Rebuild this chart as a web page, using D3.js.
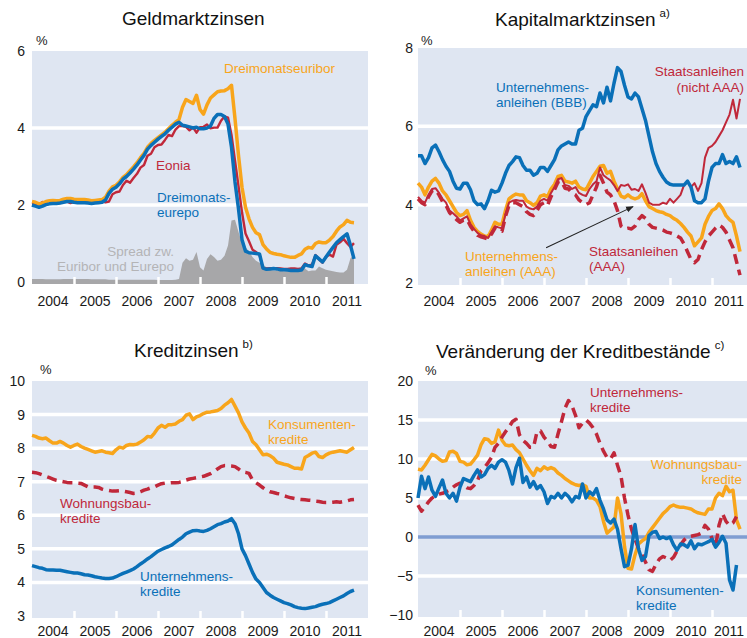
<!doctype html>
<html lang="de">
<head>
  <meta charset="UTF-8">
  <title>Zinsen und Kredite</title>
  <script src="https://cdnjs.cloudflare.com/ajax/libs/d3/7.8.5/d3.min.js"></script>
  <style>
  body { margin: 0; background: #fff; }
  svg { display: block; }
  </style>
</head>
<body>
<script>

// monthly values, first point = January 2004

// Geldmarktzinsen
var euribor = [2.09,2.07,2.03,2.05,2.09,2.11,2.12,2.11,2.12,2.15,2.17,2.17,
  2.15,2.14,2.14,2.14,2.13,2.11,2.12,2.13,2.14,2.20,2.36,2.47,
  2.51,2.60,2.72,2.79,2.89,2.99,3.10,3.23,3.34,3.50,3.60,3.68,
  3.75,3.82,3.89,3.98,4.07,4.15,4.22,4.54,4.74,4.69,4.64,4.85,
  4.48,4.36,4.60,4.78,4.86,4.94,4.96,4.97,5.02,5.11,4.24,3.29,
  2.46,1.94,1.64,1.42,1.28,1.23,0.97,0.86,0.77,0.74,0.72,0.71,
  0.68,0.66,0.64,0.64,0.69,0.73,0.85,0.90,0.88,1.00,1.04,1.02,
  1.02,1.09,1.18,1.32,1.43,1.49,1.60,1.55,1.54];
var eonia = [2.02,2.03,2.01,2.08,2.02,2.03,2.07,2.04,2.05,2.11,2.09,2.05,
  2.08,2.06,2.06,2.08,2.07,2.06,2.07,2.06,2.09,2.07,2.09,2.28,
  2.33,2.35,2.52,2.63,2.58,2.70,2.81,2.97,3.04,3.28,3.33,3.50,
  3.56,3.57,3.69,3.82,3.79,3.96,4.05,4.05,4.03,3.94,4.02,3.88,
  4.02,4.03,4.09,3.99,4.01,4.01,4.19,4.30,4.27,3.82,3.15,2.49,
  1.81,1.26,1.06,0.84,0.78,0.70,0.36,0.35,0.36,0.36,0.36,0.35,
  0.34,0.34,0.35,0.35,0.34,0.35,0.48,0.43,0.45,0.70,0.59,0.50,
  0.66,0.71,0.66,0.97,1.03,1.12,1.01,0.91,1.01];
var eurepo = [2.00,1.97,1.94,1.97,2.01,2.03,2.04,2.04,2.05,2.07,2.09,2.09,
  2.07,2.06,2.06,2.06,2.05,2.04,2.05,2.06,2.07,2.13,2.30,2.41,
  2.46,2.55,2.67,2.74,2.83,2.93,3.04,3.17,3.29,3.45,3.55,3.63,
  3.71,3.78,3.85,3.94,4.02,4.10,4.15,4.07,4.05,4.03,4.00,4.02,
  3.98,3.98,4.00,4.05,4.25,4.35,4.35,4.30,4.10,3.50,2.60,1.90,
  1.10,0.80,0.76,0.75,0.74,0.73,0.36,0.33,0.34,0.35,0.34,0.32,
  0.32,0.31,0.30,0.30,0.30,0.31,0.45,0.42,0.40,0.68,0.60,0.52,
  0.65,0.78,0.90,1.02,1.10,1.18,1.25,0.95,0.60];
var spread = [0.08,0.08,0.08,0.08,0.07,0.07,0.07,0.07,0.07,0.08,0.08,0.08,
  0.08,0.08,0.08,0.08,0.08,0.07,0.07,0.07,0.07,0.07,0.06,0.06,
  0.06,0.06,0.06,0.06,0.06,0.06,0.06,0.06,0.06,0.06,0.06,0.06,
  0.05,0.05,0.05,0.05,0.05,0.06,0.08,0.50,0.62,0.55,0.58,0.78,
  0.38,0.30,0.60,0.72,0.65,0.55,0.58,0.68,0.95,1.60,1.62,1.30,
  1.00,0.90,0.80,0.65,0.55,0.50,0.45,0.38,0.32,0.30,0.30,0.30,
  0.28,0.28,0.30,0.32,0.35,0.38,0.35,0.28,0.30,0.30,0.40,0.36,
  0.32,0.30,0.28,0.26,0.25,0.25,0.32,0.62,0.70];

// Kapitalmarktzinsen
var bbb = [5.25,5.25,5.05,5.2,5.45,5.52,5.35,5.15,4.98,4.85,4.6,4.42,
  4.4,4.55,4.55,4.38,4.1,4.0,4.02,3.9,4.1,4.37,4.32,4.35,
  4.55,4.8,5.0,5.1,5.22,5.2,5.0,4.88,4.88,4.75,4.8,4.95,
  4.95,4.85,5.0,5.15,5.4,5.5,5.55,5.6,5.55,5.55,5.9,5.95,
  6.25,6.4,6.55,6.5,6.85,6.6,7.0,6.65,7.1,7.5,7.4,7.05,
  6.75,6.7,6.85,6.75,6.45,6.15,5.75,5.35,5.05,4.85,4.7,4.58,
  4.52,4.5,4.5,4.5,4.5,4.6,4.45,4.1,4.05,4.05,4.15,4.6,
  4.95,5.05,5.05,5.28,5.05,5.1,5.05,5.22,4.95];
var aaaCorp = [4.55,4.45,4.25,4.45,4.6,4.67,4.55,4.35,4.25,4.1,3.95,3.8,
  3.72,3.75,3.85,3.6,3.42,3.32,3.25,3.2,3.18,3.35,3.55,3.5,
  3.5,3.85,4.15,4.22,4.27,4.25,4.25,4.1,4.05,3.98,4.05,4.22,
  4.25,4.2,4.4,4.52,4.72,4.75,4.6,4.58,4.55,4.6,4.45,4.4,
  4.38,4.55,4.72,4.85,4.98,5.0,4.8,4.85,4.6,4.4,4.22,4.18,
  4.25,4.18,4.15,4.18,4.28,4.1,3.95,3.9,3.85,3.82,3.8,3.75,
  3.72,3.65,3.6,3.52,3.42,3.3,3.2,2.95,3.05,3.15,3.5,3.7,
  3.85,3.9,4.02,3.9,3.72,3.62,3.55,3.2,2.8];
var govNonAaa = [4.2,4.1,4.05,4.25,4.4,4.42,4.3,4.15,4.05,3.85,3.78,3.7,
  3.6,3.65,3.7,3.5,3.38,3.28,3.22,3.2,3.15,3.3,3.45,3.42,
  3.4,3.75,4.05,4.1,4.12,4.1,4.1,3.95,3.9,3.88,3.95,4.1,
  4.15,4.1,4.3,4.45,4.65,4.68,4.5,4.48,4.4,4.45,4.3,4.25,
  4.22,4.4,4.52,4.6,4.95,4.75,4.68,4.62,4.5,4.35,4.5,4.48,
  4.52,4.38,4.4,4.35,4.52,4.3,4.05,4.0,4.0,4.0,4.05,4.02,
  4.15,4.05,4.15,4.25,4.5,4.58,4.45,4.55,4.35,4.55,5.2,5.45,
  5.5,5.6,5.75,5.9,6.1,6.3,6.68,6.2,6.7];
var govAaa = [4.15,4.05,4.0,4.2,4.35,4.38,4.25,4.08,3.98,3.8,3.7,3.62,
  3.55,3.6,3.62,3.45,3.32,3.22,3.18,3.15,3.12,3.25,3.4,3.35,
  3.32,3.7,3.98,4.05,4.05,4.0,3.95,3.82,3.75,3.72,3.85,4.0,
  4.05,3.98,4.2,4.38,4.58,4.6,4.42,4.4,4.3,4.25,4.12,4.05,
  4.0,4.05,4.25,4.45,4.75,4.55,4.32,4.25,4.1,3.85,3.45,3.38,
  3.4,3.38,3.45,3.62,3.72,3.65,3.5,3.42,3.4,3.38,3.35,3.3,
  3.28,3.25,3.2,3.15,3.0,2.8,2.6,2.52,2.6,2.85,3.05,3.2,
  3.3,3.4,3.48,3.42,3.3,3.1,2.9,2.55,2.2];

// Kreditzinsen
var rateConsumer = [8.38,8.35,8.3,8.28,8.3,8.22,8.15,8.15,8.2,8.15,8.08,8.03,
  8.08,8.12,8.05,8.0,7.96,7.92,7.88,7.9,7.92,7.88,7.86,7.84,
  7.95,8.03,8.0,8.08,8.11,8.1,8.12,8.18,8.25,8.35,8.33,8.45,
  8.6,8.68,8.62,8.7,8.7,8.72,8.8,8.85,8.98,9.02,8.85,8.93,
  8.97,9.03,9.07,9.08,9.1,9.12,9.18,9.28,9.35,9.45,9.25,9.05,
  8.78,8.6,8.45,8.2,8.1,7.95,7.8,7.82,7.78,7.7,7.58,7.55,
  7.52,7.5,7.45,7.4,7.4,7.38,7.72,7.78,7.85,7.88,7.75,7.72,
  7.8,7.85,7.88,7.9,7.92,7.9,7.88,7.95,8.02];
var rateHousing = [7.28,7.27,7.24,7.2,7.16,7.12,7.08,7.04,7.02,7.0,6.98,6.97,
  6.97,6.96,6.95,6.9,6.85,6.84,6.84,6.83,6.78,6.75,6.74,6.72,
  6.72,6.73,6.72,6.7,6.68,6.65,6.66,6.7,6.75,6.78,6.82,6.85,
  6.9,6.94,6.96,6.96,6.97,6.97,6.98,7.0,7.05,7.08,7.1,7.12,
  7.14,7.16,7.2,7.24,7.3,7.38,7.45,7.48,7.48,7.47,7.45,7.38,
  7.3,7.28,7.25,7.05,6.97,6.9,6.82,6.75,6.7,6.68,6.65,6.63,
  6.58,6.55,6.52,6.5,6.48,6.47,6.46,6.45,6.44,6.42,6.41,6.39,
  6.38,6.38,6.39,6.4,6.39,6.41,6.43,6.46,6.47];
var rateCorporate = [4.5,4.47,4.44,4.42,4.38,4.37,4.37,4.36,4.36,4.34,4.32,4.3,
  4.28,4.28,4.26,4.23,4.22,4.2,4.17,4.15,4.13,4.12,4.12,4.13,
  4.17,4.22,4.27,4.31,4.35,4.4,4.47,4.55,4.62,4.7,4.77,4.85,
  4.93,4.98,5.03,5.07,5.12,5.2,5.28,5.35,5.45,5.5,5.54,5.55,
  5.53,5.52,5.55,5.6,5.66,5.72,5.75,5.8,5.83,5.9,5.75,5.45,
  5.0,4.8,4.55,4.3,4.1,4.0,3.85,3.7,3.62,3.55,3.5,3.45,
  3.4,3.37,3.33,3.28,3.25,3.23,3.22,3.24,3.26,3.28,3.32,3.35,
  3.37,3.4,3.45,3.5,3.55,3.6,3.67,3.73,3.77];

// Veraenderung der Kreditbestaende
var growthHousing = [8.7,8.6,9.2,9.9,10.6,10.4,10.0,9.7,9.8,10.9,11.0,10.7,
  9.7,9.6,9.25,9.35,9.9,10.5,11.8,12.6,12.5,12.0,12.2,13.7,
  12.4,11.8,11.7,11.8,11.2,10.8,10.0,9.2,8.5,7.9,8.8,8.5,
  9.0,8.7,8.9,8.7,8.2,7.9,7.5,7.2,6.9,6.7,6.6,6.7,
  6.5,5.0,5.0,4.7,3.9,2.0,0.5,0.9,1.3,5.0,3.0,-1.2,
  -4.0,-4.1,-2.3,-0.9,-0.5,-0.2,0.6,1.2,1.8,2.4,3.0,3.4,
  3.9,4.1,3.9,3.8,3.8,3.7,3.6,3.3,3.1,3.0,2.9,3.6,
  3.6,5.0,5.6,5.3,6.5,5.8,6.0,2.2,1.0];
var growthCorporate = [4.1,3.3,3.9,4.5,5.0,5.2,5.5,5.6,5.8,6.0,6.4,6.7,
  6.9,6.6,6.3,6.2,6.6,7.2,8.5,8.9,9.5,10.2,11.5,12.0,
  12.8,13.5,14.1,14.8,15.1,13.1,12.4,12.0,11.5,11.5,13.5,13.6,
  12.8,12.3,11.6,11.5,13.2,14.8,16.5,17.5,16.8,15.6,14.0,14.6,
  15.0,14.6,14.0,13.2,12.0,11.0,10.2,10.0,10.8,9.2,7.8,5.0,
  2.8,1.0,-0.3,-1.5,-2.3,-3.2,-4.2,-4.4,-3.5,-2.8,-2.5,-2.7,
  -3.0,-2.6,-1.8,-1.0,-0.4,0.0,0.1,0.2,0.3,0.5,1.5,1.0,
  -0.2,-1.3,1.5,3.0,2.0,1.5,1.8,2.6];
var growthConsumer = [5.0,7.8,6.2,7.7,6.0,5.2,6.3,7.3,5.6,5.0,5.6,4.6,
  6.4,7.5,7.3,7.1,7.9,8.6,7.7,8.0,8.8,9.2,8.8,9.6,
  9.9,9.6,8.5,6.8,8.9,10.1,7.0,7.7,6.4,7.1,6.2,6.6,
  5.8,4.3,5.2,5.0,5.6,5.0,5.6,5.2,4.5,5.2,5.0,6.8,
  5.0,5.8,5.4,6.2,4.7,3.6,2.2,1.8,2.3,1.0,-1.5,-3.8,
  -3.6,-1.5,1.6,-1.5,-3.0,-2.5,0.2,0.6,0.7,-0.2,0.0,-0.2,
  0.0,-1.0,-1.7,-0.9,-1.0,-1.3,-0.5,-1.5,-0.9,-1.0,-0.8,-0.6,
  -0.3,-1.3,-0.7,0.1,-0.8,-5.5,-6.8,-3.6];

var years = [2004, 2005, 2006, 2007, 2008, 2009, 2010, 2011];

var w = 747;
var h = 638;
var font = '"Liberation Sans", Arial, sans-serif';
var orange = '#f8a51b';
var blue = '#0a70b8';
var red = '#c0283a';
var panelBg = '#dfe6f2';

var svg = d3.select('body')
  .append('svg')
  .attr('width', w)
  .attr('height', h)
  .attr('font-family', font);

svg.append('defs').append('marker')
  .attr('id', 'arrow')
  .attr('viewBox', '0 0 10 10')
  .attr('refX', 9)
  .attr('refY', 5)
  .attr('markerWidth', 7)
  .attr('markerHeight', 7)
  .attr('orient', 'auto')
  .append('path')
  .attr('d', 'M0,1 L10,5 L0,9 z')
  .attr('fill', '#222');

function month(i) {
  return 2004 + i / 12;
}

function makePanel(o) {
  var g = svg.append('g');
  var x = d3.scaleLinear().domain([2004, 2012]).range([o.left, o.left + 336]);
  var y = d3.scaleLinear().domain(o.domain).range([o.bottom, o.top]);

  g.append('rect')
    .attr('x', o.left)
    .attr('y', o.top)
    .attr('width', o.right - o.left)
    .attr('height', o.bottom - o.top + 2)
    .attr('fill', panelBg);

  g.selectAll('line.grid')
    .data(o.grid)
    .enter()
    .append('line')
    .attr('class', 'grid')
    .attr('x1', o.left)
    .attr('x2', o.right)
    .attr('y1', function(d) { return y(d); })
    .attr('y2', function(d) { return y(d); })
    .attr('stroke', '#fff')
    .attr('stroke-width', 3.5);

  var marks = g.append('g');
  var ticks = g.append('g');
  var lines = g.append('g');

  // white year ticks at the bottom edge
  ticks.attr('transform', 'translate(0,' + (o.bottom + 2) + ')')
    .call(d3.axisBottom(x).tickValues(years.slice(1)).tickSize(-7).tickFormat(''));
  ticks.select('.domain').remove();
  ticks.selectAll('line').attr('stroke', '#fff').attr('stroke-width', 2.5);

  // value labels
  var ya = g.append('g')
    .attr('transform', 'translate(' + o.labelX + ',0)')
    .call(d3.axisLeft(y).tickValues(o.ticks).tickSize(0).tickPadding(0).tickFormat(d3.format('d')));
  ya.select('.domain').remove();
  ya.attr('font-family', font).attr('font-size', 14);
  ya.selectAll('text').attr('fill', '#1a1a1a');

  // year labels
  var xa = g.append('g')
    .attr('transform', 'translate(0,' + o.bottom + ')')
    .call(d3.axisBottom(x)
      .tickValues(years.map(function(d) { return d + 0.5; }))
      .tickFormat(function(d) { return Math.floor(d); })
      .tickSize(0)
      .tickPadding(o.yearPad));
  xa.select('.domain').remove();
  xa.attr('font-family', font).attr('font-size', 14);
  xa.selectAll('text').attr('fill', '#1a1a1a');
  xa.selectAll('.tick').attr('transform', function(d) {
    return 'translate(' + Math.min(x(d), o.maxLabelX) + ',0)';
  });

  g.append('text')
    .attr('x', o.pctX)
    .attr('y', o.pctY)
    .attr('font-size', 13)
    .attr('fill', '#1a1a1a')
    .text('%');

  var t = g.append('text')
    .attr('x', o.titleX)
    .attr('y', o.titleY)
    .attr('font-size', 19)
    .attr('fill', '#111')
    .text(o.title);
  if (o.note) {
    t.append('tspan')
      .attr('dx', 4)
      .attr('dy', -9)
      .attr('font-size', 11.5)
      .text(o.note);
  }

  return { g: g, x: x, y: y, marks: marks, lines: lines };
}

function drawLine(p, values, color, width, dash) {
  var line = d3.line()
    .x(function(d, i) { return p.x(month(i)); })
    .y(function(d) { return p.y(d); });
  p.lines.append('path')
    .datum(values)
    .attr('d', line)
    .attr('fill', 'none')
    .attr('stroke', color)
    .attr('stroke-width', width)
    .attr('stroke-linejoin', 'round')
    .attr('stroke-dasharray', dash || null);
}

function label(p, rows, x, ys, color, anchor) {
  rows.forEach(function(r, k) {
    p.g.append('text')
      .attr('x', x)
      .attr('y', ys[k])
      .attr('font-size', 13.5)
      .attr('fill', color)
      .attr('text-anchor', anchor || 'start')
      .text(r);
  });
}

// --- Geldmarktzinsen
var p1 = makePanel({
  left: 32, right: 368, top: 51, bottom: 282, domain: [0, 6],
  ticks: [0, 2, 4, 6], grid: [2, 4], labelX: 25, yearPad: 14, maxLabelX: 999,
  pctX: 36, pctY: 45, title: 'Geldmarktzinsen', titleX: 122, titleY: 25
});

p1.marks.append('path')
  .datum(spread)
  .attr('d', d3.area()
    .x(function(d, i) { return p1.x(month(i)); })
    .y0(p1.y(0) + 2)
    .y1(function(d) { return p1.y(d); }))
  .attr('fill', '#a7a7a9');

drawLine(p1, eonia, red, 2.4);
drawLine(p1, euribor, orange, 3.5);
drawLine(p1, eurepo, blue, 3.5);

label(p1, ['Dreimonatseuribor'], 224, [73], orange);
label(p1, ['Eonia'], 156, [170], red);
label(p1, ['Dreimonats-', 'eurepo'], 157, [202, 217], blue);
label(p1, ['Spread zw.', 'Euribor und Eurepo'], 174, [256, 271], '#b4b4b6', 'end');

// --- Kapitalmarktzinsen
var p2 = makePanel({
  left: 418, right: 747, top: 48, bottom: 283, domain: [2, 8],
  ticks: [2, 4, 6, 8], grid: [4, 6], labelX: 413, yearPad: 13, maxLabelX: 729,
  pctX: 421, pctY: 45, title: 'Kapitalmarktzinsen', titleX: 495, titleY: 26, note: 'a)'
});

drawLine(p2, aaaCorp, orange, 3.5);
drawLine(p2, govAaa, red, 3.5, '10,6');
drawLine(p2, govNonAaa, red, 2);
drawLine(p2, bbb, blue, 3.5);

p2.g.append('line')
  .attr('x1', p2.x(2007.05))
  .attr('y1', p2.y(2.9))
  .attr('x2', p2.x(2009.12))
  .attr('y2', p2.y(3.95))
  .attr('stroke', '#222')
  .attr('stroke-width', 1.1)
  .attr('marker-end', 'url(#arrow)');

label(p2, ['Unternehmens-', 'anleihen (BBB)'], 496, [92, 107], blue);
label(p2, ['Staatsanleihen', '(nicht AAA)'], 744, [76, 92], red, 'end');
label(p2, ['Unternehmens-', 'anleihen (AAA)'], 465, [261, 276], orange);
label(p2, ['Staatsanleihen', '(AAA)'], 589, [256, 271], red);

// --- Kreditzinsen
var p3 = makePanel({
  left: 32, right: 368, top: 381, bottom: 616, domain: [3, 10],
  ticks: [3, 4, 5, 6, 7, 8, 9, 10], grid: [4, 5, 6, 7, 8, 9], labelX: 25, yearPad: 10, maxLabelX: 999,
  pctX: 40, pctY: 374, title: 'Kreditzinsen', titleX: 134, titleY: 357, note: 'b)'
});

drawLine(p3, rateConsumer, orange, 3.5);
drawLine(p3, rateHousing, red, 3.5, '10,6');
drawLine(p3, rateCorporate, blue, 3.5);

label(p3, ['Konsumenten-', 'kredite'], 268, [429, 444], orange);
label(p3, ['Wohnungsbau-', 'kredite'], 60, [508, 523], red);
label(p3, ['Unternehmens-', 'kredite'], 140, [581, 596], blue);

// --- Veraenderung der Kreditbestaende
var p4 = makePanel({
  left: 418, right: 747, top: 381, bottom: 615, domain: [-10, 20],
  ticks: [-10, -5, 0, 5, 10, 15, 20], grid: [-5, 5, 10, 15], labelX: 413, yearPad: 11, maxLabelX: 729,
  pctX: 425, pctY: 375, title: 'Veränderung der Kreditbestände', titleX: 436, titleY: 358, note: 'c)'
});

p4.marks.append('line')
  .attr('x1', 418)
  .attr('x2', 747)
  .attr('y1', p4.y(0))
  .attr('y2', p4.y(0))
  .attr('stroke', '#7f9dd2')
  .attr('stroke-width', 3.5);

drawLine(p4, growthHousing, orange, 3.5);
drawLine(p4, growthCorporate, red, 3.5, '10,6');
drawLine(p4, growthConsumer, blue, 3.5);

label(p4, ['Unternehmens-', 'kredite'], 590, [397, 412], red);
label(p4, ['Wohnungsbau-', 'kredite'], 742, [469, 484], orange, 'end');
label(p4, ['Konsumenten-', 'kredite'], 636, [595, 610], blue);

</script>
</body>
</html>
